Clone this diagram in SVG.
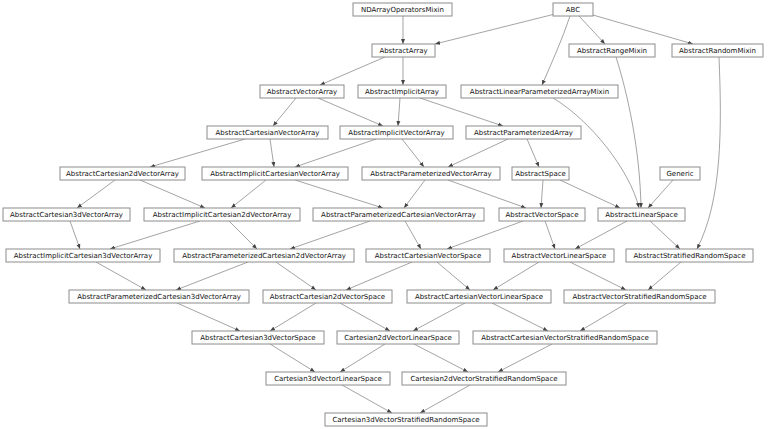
<svg xmlns="http://www.w3.org/2000/svg" width="768" height="429" viewBox="0 0 768 429">
<style>
rect{fill:#fff;stroke:#8c8c8c;stroke-width:1}
text{font-family:"DejaVu Sans",sans-serif;font-size:7px;fill:#111;text-anchor:middle;dominant-baseline:central}
#edges path,#edges line{stroke:#666;stroke-width:0.6;fill:none;marker-end:url(#a)}
</style>
<defs><marker id="a" viewBox="0 0 10 10" refX="10" refY="5" markerWidth="5" markerHeight="5" orient="auto" markerUnits="userSpaceOnUse"><path d="M0,1L10,5L0,9z" fill="#444"/></marker></defs>
<rect width="768" height="429" style="stroke:none"/>
<g id="edges">
<line x1="403" y1="16" x2="403" y2="44"/>
<line x1="555" y1="14" x2="435" y2="44"/>
<path d="M570,16 C562,40 552,62 542,85"/>
<line x1="579" y1="16" x2="605" y2="44"/>
<line x1="593" y1="15" x2="693" y2="44"/>
<line x1="385" y1="57" x2="320" y2="85"/>
<line x1="403" y1="57" x2="403" y2="85"/>
<line x1="296" y1="98" x2="273" y2="126"/>
<line x1="318" y1="98" x2="383" y2="126"/>
<line x1="400" y1="98" x2="398" y2="126"/>
<line x1="420" y1="98" x2="503" y2="126"/>
<line x1="245" y1="139" x2="150" y2="167"/>
<line x1="270" y1="139" x2="274" y2="167"/>
<line x1="376" y1="139" x2="295" y2="167"/>
<line x1="402" y1="139" x2="424" y2="167"/>
<line x1="508" y1="139" x2="448" y2="167"/>
<line x1="527" y1="139" x2="539" y2="167"/>
<path d="M553,98 C590,120 630,170 639,208"/>
<path d="M616,57 C628,95 640,150 641,208"/>
<path d="M719,57 C722,130 722,200 697,249"/>
<line x1="115" y1="180" x2="77" y2="208"/>
<line x1="140" y1="180" x2="205" y2="208"/>
<line x1="266" y1="180" x2="231" y2="208"/>
<line x1="295" y1="180" x2="383" y2="208"/>
<line x1="425" y1="180" x2="404" y2="208"/>
<line x1="448" y1="180" x2="526" y2="208"/>
<line x1="543" y1="180" x2="541" y2="208"/>
<line x1="560" y1="180" x2="620" y2="208"/>
<line x1="673" y1="180" x2="648" y2="208"/>
<line x1="70" y1="221" x2="80" y2="249"/>
<line x1="200" y1="221" x2="110" y2="249"/>
<line x1="229" y1="221" x2="257" y2="249"/>
<line x1="370" y1="221" x2="290" y2="249"/>
<line x1="405" y1="221" x2="421" y2="249"/>
<line x1="523" y1="221" x2="447" y2="249"/>
<line x1="545" y1="221" x2="555" y2="249"/>
<line x1="627" y1="221" x2="575" y2="249"/>
<line x1="650" y1="221" x2="680" y2="249"/>
<line x1="96" y1="262" x2="146" y2="290"/>
<line x1="248" y1="262" x2="176" y2="290"/>
<line x1="276" y1="262" x2="316" y2="290"/>
<line x1="412" y1="262" x2="346" y2="290"/>
<line x1="437" y1="262" x2="470" y2="290"/>
<line x1="539" y1="262" x2="493" y2="290"/>
<line x1="570" y1="262" x2="626" y2="290"/>
<line x1="681" y1="262" x2="648" y2="290"/>
<line x1="177" y1="303" x2="240" y2="331"/>
<line x1="316" y1="303" x2="270" y2="331"/>
<line x1="340" y1="303" x2="390" y2="331"/>
<line x1="465" y1="303" x2="413" y2="331"/>
<line x1="492" y1="303" x2="548" y2="331"/>
<line x1="627" y1="303" x2="580" y2="331"/>
<line x1="270" y1="344" x2="315" y2="372"/>
<line x1="385" y1="344" x2="340" y2="372"/>
<line x1="414" y1="344" x2="468" y2="372"/>
<line x1="552" y1="344" x2="498" y2="372"/>
<line x1="342" y1="385" x2="392" y2="413"/>
<line x1="470" y1="385" x2="420" y2="413"/>
</g>
<g id="NDArrayOperatorsMixin"><rect x="353" y="3" width="99" height="13"/><text x="402.5" y="9.5">NDArrayOperatorsMixin</text></g>
<g id="ABC"><rect x="553" y="3" width="40" height="13"/><text x="573" y="9.5">ABC</text></g>
<g id="AbstractArray"><rect x="372" y="44" width="63" height="13"/><text x="403.5" y="50.5">AbstractArray</text></g>
<g id="AbstractRangeMixin"><rect x="569" y="44" width="86" height="13"/><text x="612" y="50.5">AbstractRangeMixin</text></g>
<g id="AbstractRandomMixin"><rect x="672" y="44" width="91" height="13"/><text x="717.5" y="50.5">AbstractRandomMixin</text></g>
<g id="AbstractVectorArray"><rect x="260" y="85" width="84" height="13"/><text x="302" y="91.5">AbstractVectorArray</text></g>
<g id="AbstractImplicitArray"><rect x="358" y="85" width="88" height="13"/><text x="402" y="91.5">AbstractImplicitArray</text></g>
<g id="AbstractLinearParameterizedArrayMixin"><rect x="461" y="85" width="157" height="13"/><text x="539.5" y="91.5">AbstractLinearParameterizedArrayMixin</text></g>
<g id="AbstractCartesianVectorArray"><rect x="207" y="126" width="121" height="13"/><text x="267.5" y="132.5">AbstractCartesianVectorArray</text></g>
<g id="AbstractImplicitVectorArray"><rect x="340" y="126" width="113" height="13"/><text x="396.5" y="132.5">AbstractImplicitVectorArray</text></g>
<g id="AbstractParameterizedArray"><rect x="466" y="126" width="115" height="13"/><text x="523.5" y="132.5">AbstractParameterizedArray</text></g>
<g id="AbstractCartesian2dVectorArray"><rect x="60" y="167" width="125" height="13"/><text x="122.5" y="173.5">AbstractCartesian2dVectorArray</text></g>
<g id="AbstractImplicitCartesianVectorArray"><rect x="202" y="167" width="146" height="13"/><text x="275" y="173.5">AbstractImplicitCartesianVectorArray</text></g>
<g id="AbstractParameterizedVectorArray"><rect x="362" y="167" width="138" height="13"/><text x="431" y="173.5">AbstractParameterizedVectorArray</text></g>
<g id="AbstractSpace"><rect x="512" y="167" width="57" height="13"/><text x="540.5" y="173.5">AbstractSpace</text></g>
<g id="Generic"><rect x="660" y="167" width="40" height="13"/><text x="680" y="173.5">Generic</text></g>
<g id="AbstractCartesian3dVectorArray"><rect x="3" y="208" width="127" height="13"/><text x="66.5" y="214.5">AbstractCartesian3dVectorArray</text></g>
<g id="AbstractImplicitCartesian2dVectorArray"><rect x="144" y="208" width="156" height="13"/><text x="222" y="214.5">AbstractImplicitCartesian2dVectorArray</text></g>
<g id="AbstractParameterizedCartesianVectorArray"><rect x="313" y="208" width="171" height="13"/><text x="398.5" y="214.5">AbstractParameterizedCartesianVectorArray</text></g>
<g id="AbstractVectorSpace"><rect x="499" y="208" width="86" height="13"/><text x="542" y="214.5">AbstractVectorSpace</text></g>
<g id="AbstractLinearSpace"><rect x="598" y="208" width="87" height="13"/><text x="641.5" y="214.5">AbstractLinearSpace</text></g>
<g id="AbstractImplicitCartesian3dVectorArray"><rect x="6" y="249" width="154" height="13"/><text x="83" y="255.5">AbstractImplicitCartesian3dVectorArray</text></g>
<g id="AbstractParameterizedCartesian2dVectorArray"><rect x="174" y="249" width="180" height="13"/><text x="264" y="255.5">AbstractParameterizedCartesian2dVectorArray</text></g>
<g id="AbstractCartesianVectorSpace"><rect x="366" y="249" width="124" height="13"/><text x="428" y="255.5">AbstractCartesianVectorSpace</text></g>
<g id="AbstractVectorLinearSpace"><rect x="504" y="249" width="110" height="13"/><text x="559" y="255.5">AbstractVectorLinearSpace</text></g>
<g id="AbstractStratifiedRandomSpace"><rect x="626" y="249" width="127" height="13"/><text x="689.5" y="255.5">AbstractStratifiedRandomSpace</text></g>
<g id="AbstractParameterizedCartesian3dVectorArray"><rect x="69" y="290" width="180" height="13"/><text x="159" y="296.5">AbstractParameterizedCartesian3dVectorArray</text></g>
<g id="AbstractCartesian2dVectorSpace"><rect x="263" y="290" width="129" height="13"/><text x="327.5" y="296.5">AbstractCartesian2dVectorSpace</text></g>
<g id="AbstractCartesianVectorLinearSpace"><rect x="407" y="290" width="144" height="13"/><text x="479" y="296.5">AbstractCartesianVectorLinearSpace</text></g>
<g id="AbstractVectorStratifiedRandomSpace"><rect x="564" y="290" width="151" height="13"/><text x="639.5" y="296.5">AbstractVectorStratifiedRandomSpace</text></g>
<g id="AbstractCartesian3dVectorSpace"><rect x="192" y="331" width="132" height="13"/><text x="258" y="337.5">AbstractCartesian3dVectorSpace</text></g>
<g id="Cartesian2dVectorLinearSpace"><rect x="337" y="331" width="122" height="13"/><text x="398" y="337.5">Cartesian2dVectorLinearSpace</text></g>
<g id="AbstractCartesianVectorStratifiedRandomSpace"><rect x="473" y="331" width="184" height="13"/><text x="565" y="337.5">AbstractCartesianVectorStratifiedRandomSpace</text></g>
<g id="Cartesian3dVectorLinearSpace"><rect x="266" y="372" width="124" height="13"/><text x="328" y="378.5">Cartesian3dVectorLinearSpace</text></g>
<g id="Cartesian2dVectorStratifiedRandomSpace"><rect x="402" y="372" width="164" height="13"/><text x="484" y="378.5">Cartesian2dVectorStratifiedRandomSpace</text></g>
<g id="Cartesian3dVectorStratifiedRandomSpace"><rect x="325" y="413" width="162" height="13"/><text x="406" y="419.5">Cartesian3dVectorStratifiedRandomSpace</text></g>
</svg>
